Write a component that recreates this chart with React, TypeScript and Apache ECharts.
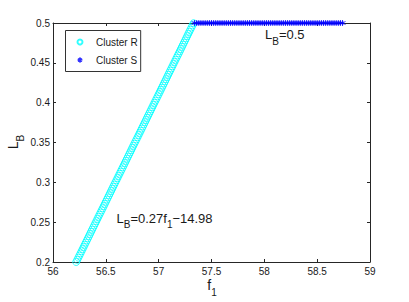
import React, { useEffect, useRef } from "react";
import * as echarts from "echarts";

// Cluster R: (f1, L_B) read along the sloped band
const clusterRF1 = [
  56.22, 56.23, 56.24, 56.25, 56.26, 56.27, 56.28, 56.29, 56.30, 56.31,
  56.32, 56.33, 56.34, 56.35, 56.36, 56.37, 56.38, 56.39, 56.40, 56.41,
  56.42, 56.43, 56.44, 56.45, 56.46, 56.47, 56.48, 56.49, 56.50, 56.51,
  56.52, 56.53, 56.54, 56.55, 56.56, 56.57, 56.58, 56.59, 56.60, 56.61,
  56.62, 56.63, 56.64, 56.65, 56.66, 56.67, 56.68, 56.69, 56.70, 56.71,
  56.72, 56.73, 56.74, 56.75, 56.76, 56.77, 56.78, 56.79, 56.80, 56.81,
  56.82, 56.83, 56.84, 56.85, 56.86, 56.87, 56.88, 56.89, 56.90, 56.91,
  56.92, 56.93, 56.94, 56.95, 56.96, 56.97, 56.98, 56.99, 57.00, 57.01,
  57.02, 57.03, 57.04, 57.05, 57.06, 57.07, 57.08, 57.09, 57.10, 57.11,
  57.12, 57.13, 57.14, 57.15, 57.16, 57.17, 57.18, 57.19, 57.20, 57.21,
  57.22, 57.23, 57.24, 57.25, 57.26, 57.27, 57.28, 57.29, 57.30, 57.31,
  57.32, 57.33,
];
const clusterRLB = [
  0.2000, 0.2027, 0.2054, 0.2081, 0.2108, 0.2135, 0.2162, 0.2189, 0.2216, 0.2243,
  0.2270, 0.2297, 0.2324, 0.2351, 0.2378, 0.2405, 0.2432, 0.2459, 0.2486, 0.2513,
  0.2540, 0.2567, 0.2594, 0.2621, 0.2648, 0.2675, 0.2702, 0.2729, 0.2756, 0.2783,
  0.2810, 0.2837, 0.2864, 0.2891, 0.2918, 0.2945, 0.2972, 0.2999, 0.3026, 0.3053,
  0.3080, 0.3107, 0.3134, 0.3161, 0.3188, 0.3215, 0.3242, 0.3269, 0.3296, 0.3323,
  0.3350, 0.3377, 0.3404, 0.3431, 0.3458, 0.3485, 0.3512, 0.3539, 0.3566, 0.3593,
  0.3620, 0.3647, 0.3674, 0.3701, 0.3728, 0.3755, 0.3782, 0.3809, 0.3836, 0.3863,
  0.3890, 0.3917, 0.3944, 0.3971, 0.3998, 0.4025, 0.4052, 0.4079, 0.4106, 0.4133,
  0.4160, 0.4187, 0.4214, 0.4241, 0.4268, 0.4295, 0.4322, 0.4349, 0.4376, 0.4403,
  0.4430, 0.4457, 0.4484, 0.4511, 0.4538, 0.4565, 0.4592, 0.4619, 0.4646, 0.4673,
  0.4700, 0.4727, 0.4754, 0.4781, 0.4808, 0.4835, 0.4862, 0.4889, 0.4916, 0.4943,
  0.4970, 0.4997,
];

// Cluster S: flat band at L_B = 0.5
const clusterSF1 = [
  57.34, 57.36, 57.38, 57.40, 57.42, 57.44, 57.46, 57.48, 57.50, 57.52,
  57.54, 57.56, 57.58, 57.60, 57.62, 57.64, 57.66, 57.68, 57.70, 57.72,
  57.74, 57.76, 57.78, 57.80, 57.82, 57.84, 57.86, 57.88, 57.90, 57.92,
  57.94, 57.96, 57.98, 58.00, 58.02, 58.04, 58.06, 58.08, 58.10, 58.12,
  58.14, 58.16, 58.18, 58.20, 58.22, 58.24, 58.26, 58.28, 58.30, 58.32,
  58.34, 58.36, 58.38, 58.40, 58.42, 58.44, 58.46, 58.48, 58.50, 58.52,
  58.54, 58.56, 58.58, 58.60, 58.62, 58.64, 58.66, 58.68, 58.70, 58.72,
  58.74,
];
const clusterSLB = clusterSF1.map(() => 0.5);

const xTicks = { min: 56, max: 59, interval: 0.5 };
const yTicks = { min: 0.2, max: 0.5, interval: 0.05 };

const FONT = "'Liberation Sans', Arial, Helvetica, sans-serif";
const TXT = "#1a1a1a";
const ASTERISK =
  "path://M0,-5L0,5M-4.33,-2.5L4.33,2.5M-4.33,2.5L4.33,-2.5";

function richStyles(main: number, sub: number, mainLH: number, subPad: number) {
  return {
    m: { fontSize: main, lineHeight: mainLH, verticalAlign: "top", fill: TXT, fontFamily: FONT },
    s: { fontSize: sub, lineHeight: sub, padding: [subPad, 0, 0, 0], verticalAlign: "top", fill: TXT, fontFamily: FONT },
  };
}

export default function App() {
  const ref = useRef<HTMLDivElement>(null);
  useEffect(() => {
    document.body.style.margin = "0";
    if (!ref.current) return;
    const chart = echarts.init(ref.current, undefined, { renderer: "svg" });
    const axisLine = { show: true, lineStyle: { color: "#262626", width: 1 } };
    const tick = { show: true, inside: true, length: 3, lineStyle: { color: "#262626" } };
    const fmt = (v: number) => String(+v.toFixed(2));
    chart.setOption({
      animation: false,
      backgroundColor: "#ffffff",
      grid: { left: 53, right: 39, top: 23, bottom: 40, containLabel: false },
      legend: {
        orient: "vertical",
        left: 65.5,
        top: 30.5,
        padding: [6.5, 3, 6.5, 11],
        itemWidth: 22,
        itemHeight: 5,
        itemGap: 8,
        borderColor: "#333",
        borderWidth: 1,
        backgroundColor: "#fff",
        textStyle: { fontSize: 10, lineHeight: 5, color: TXT, fontFamily: FONT },
        data: ["Cluster R", "Cluster S"],
      },
      xAxis: [
        {
          type: "value", ...xTicks, position: "bottom",
          axisLine, axisTick: tick, splitLine: { show: false },
          axisLabel: { fontSize: 10, color: TXT, fontFamily: FONT, margin: 4, formatter: fmt },
        },
        {
          type: "value", ...xTicks, position: "top",
          axisLine, axisTick: tick, splitLine: { show: false },
          axisLabel: { show: false },
        },
      ],
      yAxis: [
        {
          type: "value", ...yTicks, position: "left",
          axisLine, axisTick: tick, splitLine: { show: false },
          axisLabel: { fontSize: 10, color: TXT, fontFamily: FONT, margin: 3, formatter: fmt },
        },
        {
          type: "value", ...yTicks, position: "right",
          axisLine, axisTick: tick, splitLine: { show: false },
          axisLabel: { show: false },
        },
      ],
      series: [
        {
          name: "Cluster R",
          type: "scatter",
          symbol: "circle",
          symbolSize: 7,
          itemStyle: { color: "rgba(0,0,0,0)", borderColor: "#00ffff", borderWidth: 1 },
          data: clusterRF1.map((f, i) => [f, clusterRLB[i]]),
        },
        {
          name: "Cluster S",
          type: "scatter",
          symbol: ASTERISK,
          symbolSize: 6,
          itemStyle: { color: "#0000ff", borderColor: "#0000ff", borderWidth: 1 },
          data: clusterSF1.map((f, i) => [f, clusterSLB[i]]),
        },
      ],
      graphic: [
        {
          type: "text", left: 265, top: 28,
          style: { text: "{m|L}{s|B}{m|=0.5}", rich: richStyles(13, 10, 15, 8) },
        },
        {
          type: "text", left: 116.5, top: 211.5,
          style: { text: "{m|L}{s|B}{m|=0.27f}{s|1}{m|\u221214.98}", rich: richStyles(13, 10, 15, 8) },
        },
        {
          type: "text", x: 212, y: 278,
          style: { text: "{m|f}{s|1}", align: "center", verticalAlign: "top", rich: richStyles(14, 10, 16, 9) },
        },
        {
          type: "text", x: 14, y: 142, rotation: Math.PI / 2,
          style: { text: "{m|L}{s|B}", align: "center", verticalAlign: "middle", rich: richStyles(14, 10, 16, 9) },
        },
      ],
    });
    return () => chart.dispose();
  }, []);
  return (
    <div
      ref={ref}
      style={{ position: "fixed", left: 0, top: 0, width: 409, height: 302, background: "#fff" }}
    />
  );
}
